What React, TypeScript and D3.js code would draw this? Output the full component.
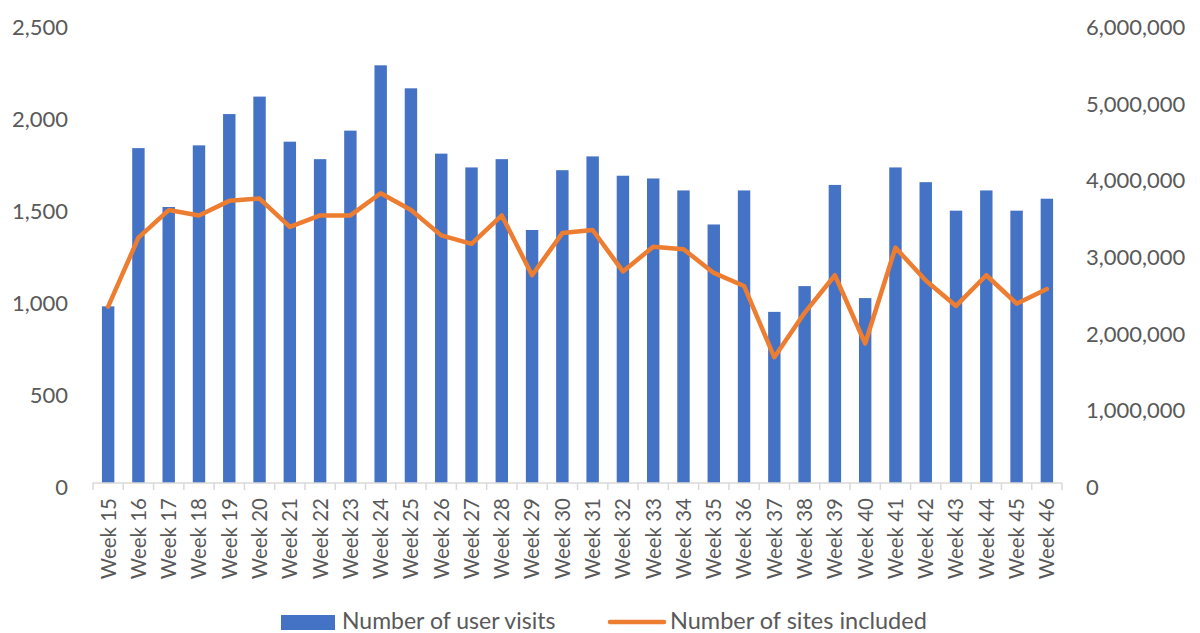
import React from "react";
import * as d3 from "d3";

const weeks: string[] = Array.from({ length: 32 }, (_, i) => `Week ${15 + i}`);

const userVisits: number[] = [
  960, 1820, 1500, 1835, 2005, 2100, 1855, 1760, 1915, 2270, 2145, 1790, 1715, 1760, 1375, 1700,
  1775, 1670, 1655, 1590, 1405, 1590, 930, 1070, 1620, 1005, 1715, 1635, 1480, 1590, 1480, 1545,
];

const sitesIncluded: number[] = [
  2300000, 3200000, 3560000, 3490000, 3680000, 3710000, 3340000, 3490000, 3490000, 3780000,
  3560000, 3230000, 3120000, 3490000, 2710000, 3260000, 3300000, 2760000, 3080000, 3050000,
  2740000, 2570000, 1640000, 2220000, 2710000, 1820000, 3070000, 2640000, 2310000, 2710000,
  2340000, 2530000,
];

const leftTicks: number[] = [0, 500, 1000, 1500, 2000, 2500];
const rightTicks: number[] = [0, 1000000, 2000000, 3000000, 4000000, 5000000, 6000000];

const seriesNames: string[] = ["Number of user visits", "Number of sites included"];

const BLUE = "#4472C4";
const ORANGE = "#ED7D31";
const TEXT = "#595959";
const AXIS = "#D9D9D9";
const FONT = "Lato, 'Open Sans', sans-serif";

export default function App() {
  const left = 93;
  const right = 1062;
  const top = 23;
  const bottom = 483;

  const x = d3
    .scaleBand<string>()
    .domain(weeks)
    .range([left, right])
    .paddingInner(0.59)
    .paddingOuter(0.295);
  const step = x.step();
  const yL = d3.scaleLinear().domain([0, 2500]).range([bottom, top]);
  const yR = d3.scaleLinear().domain([0, 6000000]).range([bottom, top]);
  const fmt = d3.format(",");

  const line = d3
    .line<number>()
    .x((_, i) => (x(weeks[i]) as number) + x.bandwidth() / 2)
    .y((d) => yR(d));

  const boundaries = d3.range(weeks.length + 1).map((i) => left + i * step);

  return (
    <svg
      width={1200}
      height={633}
      style={{ position: "absolute", left: 0, top: 0, display: "block", background: "#fff" }}
      fontFamily={FONT}
    >
      {/* bars */}
      {userVisits.map((v, i) => (
        <rect
          key={weeks[i]}
          x={x(weeks[i])}
          y={yL(v)}
          width={x.bandwidth()}
          height={bottom - yL(v)}
          fill={BLUE}
        />
      ))}

      {/* x axis */}
      <line x1={left} x2={right} y1={bottom} y2={bottom} stroke={AXIS} strokeWidth={1.5} />
      {boundaries.map((bx, i) => (
        <line key={i} x1={bx} x2={bx} y1={bottom} y2={bottom + 7} stroke={AXIS} strokeWidth={1.5} />
      ))}
      {weeks.map((w) => {
        const cx = (x(w) as number) + x.bandwidth() / 2;
        return (
          <text
            key={w}
            transform={`translate(${cx},${498}) rotate(-90)`}
            textAnchor="end"
            dy="0.36em"
            fontSize={20.5}
            fill={TEXT}
          >
            {w}
          </text>
        );
      })}

      {/* line */}
      <path
        d={line(sitesIncluded) || ""}
        fill="none"
        stroke={ORANGE}
        strokeWidth={4.5}
        strokeLinejoin="round"
        strokeLinecap="round"
      />

      {/* left axis labels */}
      {leftTicks.map((t) => (
        <text key={t} x={68} y={yL(t) + 4} dy="0.36em" textAnchor="end" fontSize={22} fill={TEXT}>
          {fmt(t)}
        </text>
      ))}

      {/* right axis labels */}
      {rightTicks.map((t) => (
        <text key={t} x={1086} y={yR(t) + 4} dy="0.36em" textAnchor="start" fontSize={22} fill={TEXT}>
          {fmt(t)}
        </text>
      ))}

      {/* legend */}
      <rect x={281} y={615} width={54} height={15} fill={BLUE} />
      <text x={342} y={629} fontSize={23} fill={TEXT}>
        {seriesNames[0]}
      </text>
      <line x1={610} x2={664} y1={622} y2={622} stroke={ORANGE} strokeWidth={4.5} strokeLinecap="round" />
      <text x={670} y={629} fontSize={23.5} fill={TEXT}>
        {seriesNames[1]}
      </text>
    </svg>
  );
}
